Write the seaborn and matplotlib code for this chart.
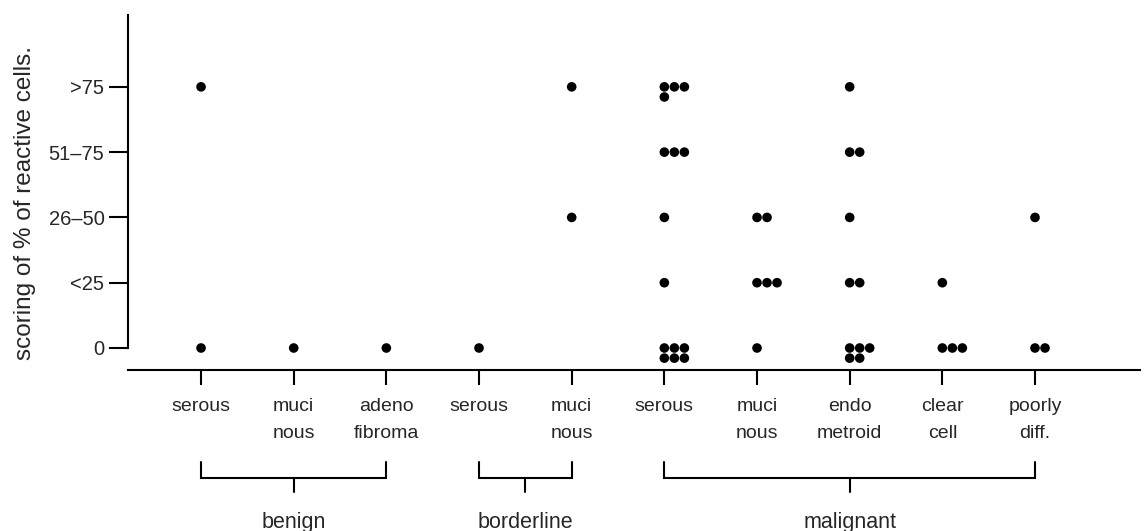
import matplotlib
matplotlib.use("Agg")
import matplotlib.pyplot as plt
import seaborn as sns
import pandas as pd

# tumour types along the x axis, grouped by behaviour
tumour_type = ["serous", "muci\nnous", "adeno\nfibroma",
               "serous", "muci\nnous",
               "serous", "muci\nnous", "endo\nmetroid", "clear\ncell", "poorly\ndiff."]
group = ["benign", "benign", "benign",
         "borderline", "borderline",
         "malignant", "malignant", "malignant", "malignant", "malignant"]
score_labels = ["0", "<25", "26\u201350", "51\u201375", ">75"]

# number of cases per score class, one entry per tumour type
n_score_0 = [1, 1, 1, 1, 0, 6, 1, 5, 3, 2]
n_lt25 = [0, 0, 0, 0, 0, 1, 3, 2, 1, 0]
n_26_50 = [0, 0, 0, 0, 1, 1, 2, 1, 0, 1]
n_51_75 = [0, 0, 0, 0, 0, 3, 0, 2, 0, 0]
n_gt75 = [1, 0, 0, 0, 1, 4, 0, 1, 0, 0]

rows = []
for cat in range(len(tumour_type)):
    for level, counts in enumerate([n_score_0, n_lt25, n_26_50, n_51_75, n_gt75]):
        for k in range(counts[cat]):
            rows.append({"cat": cat, "level": level, "k": k})
df = pd.DataFrame(rows)
# dots stacked in rows of three, like the original figure
df["x"] = df["cat"] + (df["k"] % 3) * 0.108
df["y"] = df["level"] - (df["k"] // 3) * 0.155

sns.set_style("ticks")
plt.rcParams["font.family"] = ["Liberation Sans", "DejaVu Sans"]

fig = plt.figure(figsize=(11.44, 5.31), dpi=100)
ax = fig.add_axes([0.1119, 0.3032, 0.8846, 0.6685])
sns.scatterplot(data=df, x="x", y="y", color="black", s=48,
                edgecolor="none", legend=False, ax=ax)

ax.set_xlim(-0.788, 10.133)
ax.set_ylim(-0.337, 5.10)
ax.set_xlabel("")
ax.set_ylabel("")

for side in ["top", "right"]:
    ax.spines[side].set_visible(False)
for side in ["left", "bottom"]:
    ax.spines[side].set_linewidth(1.5)
    ax.spines[side].set_color("black")
ax.spines["left"].set_bounds(0, 5.10)

ax.set_xticks(range(len(tumour_type)))
ax.set_xticklabels(tumour_type, fontsize=14, linespacing=1.75)
ax.set_yticks(range(len(score_labels)))
ax.set_yticklabels(score_labels, fontsize=14.5)
ax.tick_params(axis="x", direction="out", length=11, width=1.5, pad=9, color="black")
ax.tick_params(axis="y", direction="out", length=14, width=1.5, pad=3, color="black")

fig.text(25 / 1144, 1 - 203 / 531, "scoring of % of reactive cells.",
         rotation=90, ha="center", va="center", fontsize=17.5)

# brackets grouping the tumour types
y_arm, y_bar, y_stem, y_lab = -1.75, -1.99, -2.21, -2.67
for name in ["benign", "borderline", "malignant"]:
    idx = [i for i, g in enumerate(group) if g == name]
    a, b = idx[0], idx[-1]
    m = (a + b) / 2
    ax.plot([a, a, b, b], [y_arm, y_bar, y_bar, y_arm], color="black",
            lw=1.5, clip_on=False, solid_joinstyle="miter")
    ax.plot([m, m], [y_bar, y_stem], color="black", lw=1.5, clip_on=False)
    ax.text(m, y_lab, name, ha="center", va="center", fontsize=15.5)

fig.savefig("out.png", dpi=100)
